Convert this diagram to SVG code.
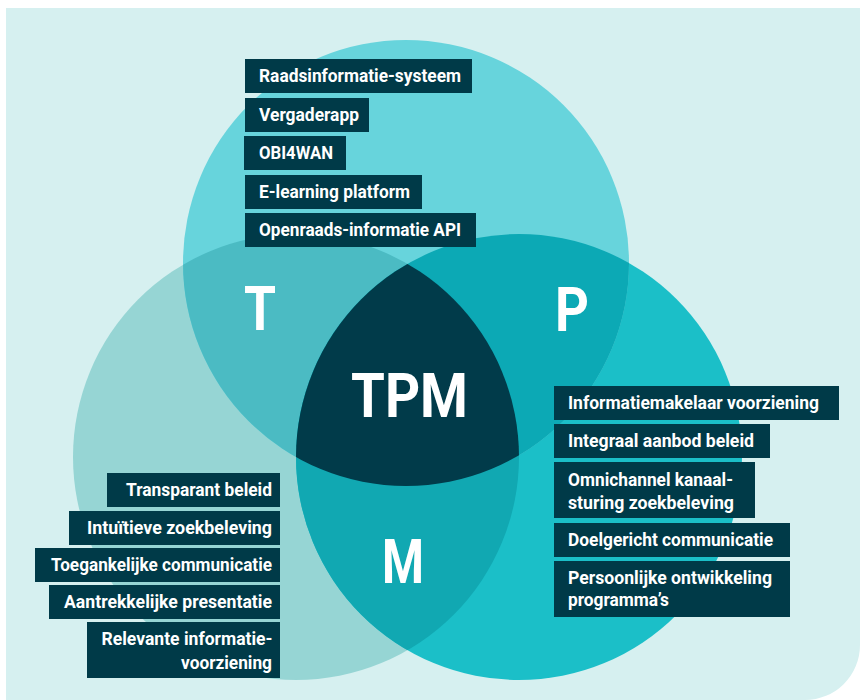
<svg xmlns="http://www.w3.org/2000/svg" width="860" height="700" viewBox="0 0 860 700">
  <style>
    .box { fill: #003a48; }
    .lbl { fill: #ffffff; font-family: Roboto, "Liberation Sans", sans-serif; font-weight: 700; font-size: 18px; }
    .big { fill: #ffffff; font-family: Roboto, "Liberation Sans", sans-serif; font-weight: 700; font-size: 62px; }
    .end { text-anchor: end; }
  </style>
  <defs>
    <clipPath id="clipT"><circle cx="406" cy="263" r="223"/></clipPath>
    <clipPath id="clipL"><circle cx="296" cy="457" r="223"/></clipPath>
  </defs>

  <!-- background panel -->
  <path d="M6,8 H860 V645 A55,55 0 0 1 805,700 H6 Z" fill="#d6f0f0"/>

  <!-- venn circles -->
  <g id="venn">
    <circle id="circle-m" cx="296" cy="457" r="223" fill="#96d5d4"/>
    <circle id="circle-p" cx="519" cy="457" r="223" fill="#1bbfc8"/>
    <circle id="circle-t" cx="406" cy="263" r="223" fill="#67d4dc"/>
    <!-- T ∩ left -->
    <circle cx="296" cy="457" r="223" fill="#4bbbc3" clip-path="url(#clipT)"/>
    <!-- T ∩ right -->
    <circle cx="519" cy="457" r="223" fill="#0ca9b5" clip-path="url(#clipT)"/>
    <!-- left ∩ right -->
    <circle cx="519" cy="457" r="223" fill="#11a8b2" clip-path="url(#clipL)"/>
    <!-- all three -->
    <g clip-path="url(#clipT)">
      <circle cx="519" cy="457" r="223" fill="#013b4a" clip-path="url(#clipL)"/>
    </g>
  </g>

  <!-- big letters -->
  <g id="letters">
    <text class="big" x="244" y="330" textLength="32" lengthAdjust="spacingAndGlyphs">T</text>
    <text class="big" x="555" y="331" textLength="34" lengthAdjust="spacingAndGlyphs">P</text>
    <text class="big" x="382" y="583" textLength="42" lengthAdjust="spacingAndGlyphs">M</text>
    <text class="big" x="351" y="417" textLength="117" lengthAdjust="spacingAndGlyphs">TPM</text>
  </g>

  <!-- technology items -->
  <g id="t-items">
    <g id="t1"><rect class="box" x="245" y="59" width="227" height="34"/><text class="lbl" x="259" y="82" textLength="202" lengthAdjust="spacingAndGlyphs">Raadsinformatie-systeem</text></g>
    <g id="t2"><rect class="box" x="245" y="98" width="124" height="34"/><text class="lbl" x="259" y="121" textLength="100" lengthAdjust="spacingAndGlyphs">Vergaderapp</text></g>
    <g id="t3"><rect class="box" x="244" y="136" width="102" height="34"/><text class="lbl" x="259" y="159" textLength="74" lengthAdjust="spacingAndGlyphs">OBI4WAN</text></g>
    <g id="t4"><rect class="box" x="245" y="175" width="177" height="34"/><text class="lbl" x="259" y="198" textLength="151" lengthAdjust="spacingAndGlyphs">E-learning platform</text></g>
    <g id="t5"><rect class="box" x="245" y="213" width="231" height="34"/><text class="lbl" x="259" y="236" textLength="202" lengthAdjust="spacingAndGlyphs">Openraads-informatie API</text></g>
  </g>

  <!-- marketing items -->
  <g id="m-items">
    <g id="m1"><rect class="box" x="107" y="473" width="173" height="34"/><text class="lbl" x="126" y="496" textLength="146" lengthAdjust="spacingAndGlyphs">Transparant beleid</text></g>
    <g id="m2"><rect class="box" x="69" y="511" width="211" height="34"/><text class="lbl" x="87" y="534" textLength="185" lengthAdjust="spacingAndGlyphs">Intuïtieve zoekbeleving</text></g>
    <g id="m3"><rect class="box" x="35" y="548" width="245" height="34"/><text class="lbl" x="51" y="571" textLength="221" lengthAdjust="spacingAndGlyphs">Toegankelijke communicatie</text></g>
    <g id="m4"><rect class="box" x="49" y="585" width="231" height="34"/><text class="lbl" x="64" y="608" textLength="208" lengthAdjust="spacingAndGlyphs">Aantrekkelijke presentatie</text></g>
    <g id="m5"><rect class="box" x="87" y="622" width="193" height="56"/>
      <text class="lbl" x="101.5" y="645" textLength="171" lengthAdjust="spacingAndGlyphs">Relevante informatie-</text>
      <text class="lbl" x="181" y="669" textLength="91" lengthAdjust="spacingAndGlyphs">voorziening</text></g>
  </g>

  <!-- process items -->
  <g id="p-items">
    <g id="p1"><rect class="box" x="554" y="386" width="285" height="34"/><text class="lbl" x="568" y="409" textLength="251" lengthAdjust="spacingAndGlyphs">Informatiemakelaar voorziening</text></g>
    <g id="p2"><rect class="box" x="554" y="424" width="216" height="34"/><text class="lbl" x="568" y="447" textLength="186" lengthAdjust="spacingAndGlyphs">Integraal aanbod beleid</text></g>
    <g id="p3"><rect class="box" x="554" y="462" width="201" height="56"/>
      <text class="lbl" x="568" y="486" textLength="165" lengthAdjust="spacingAndGlyphs">Omnichannel kanaal-</text>
      <text class="lbl" x="568" y="509" textLength="166" lengthAdjust="spacingAndGlyphs">sturing zoekbeleving</text></g>
    <g id="p4"><rect class="box" x="554" y="523" width="236" height="34"/><text class="lbl" x="568" y="546" textLength="205" lengthAdjust="spacingAndGlyphs">Doelgericht communicatie</text></g>
    <g id="p5"><rect class="box" x="554" y="561" width="236" height="56"/>
      <text class="lbl" x="568" y="584" textLength="204" lengthAdjust="spacingAndGlyphs">Persoonlijke ontwikkeling</text>
      <text class="lbl" x="568" y="606" textLength="101" lengthAdjust="spacingAndGlyphs">programma’s</text></g>
  </g>
</svg>
